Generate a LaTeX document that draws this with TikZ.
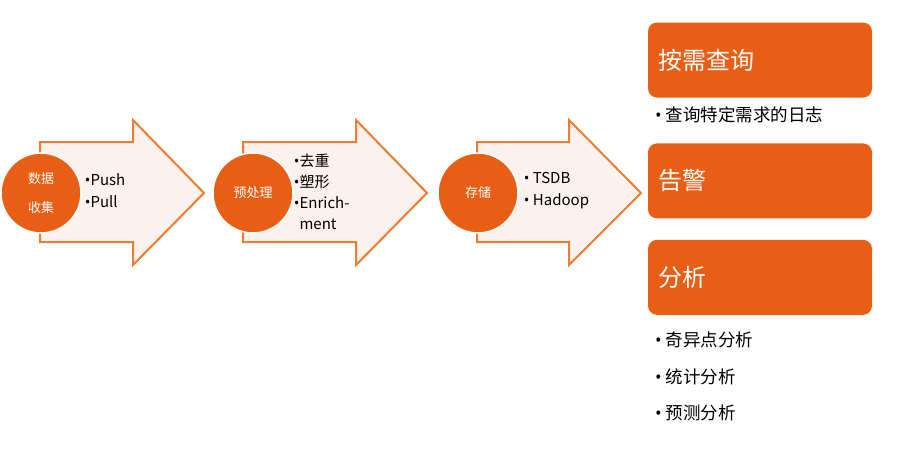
\documentclass[tikz,border=0pt]{standalone}
\usepackage{fontspec}
\setmainfont{Noto Sans CJK SC}
\newfontfamily\bulletfont{Open Sans}
\newcommand{\dotitem}{{\bulletfont •}}
\usetikzlibrary{positioning}
\definecolor{LogOrange}{RGB}{233,94,21}
\definecolor{ArrowEdge}{RGB}{237,125,49}
\definecolor{ArrowFill}{RGB}{251,241,237}

\begin{document}
\begin{tikzpicture}[x=1pt,y=-1pt,
  stage/.style={circle,fill=LogOrange,draw=white,line width=1.5pt,minimum size=80pt,
    inner sep=0pt,text=white,align=center,font=\fontsize{13}{29}\selectfont},
  items/.style={inner sep=0pt,align=left,font=\fontsize{15}{22}\selectfont},
  panel/.style={rounded corners=9pt,fill=LogOrange,minimum width=224pt,
    minimum height=75pt,inner sep=0pt},
  heading/.style={anchor=west,inner sep=0pt,text=white,font=\fontsize{24}{28}\selectfont},
  note/.style={anchor=west,inner sep=0pt,font=\fontsize{17.5}{20}\selectfont}]
  \useasboundingbox (0,0) rectangle (906,450);
  % the three stage arrows
  \foreach \a/\b/\c in {40/133/204, 243/356/427, 477/569/641}
    \draw[ArrowEdge,fill=ArrowFill,line width=2pt,line join=miter]
      (\a,142) -- (\b,142) -- (\b,120) -- (\c,193) -- (\b,265) -- (\b,242)
      -- (\a,242) -- cycle;
  \node[stage] (collect) at (41,193) {数据\\收集};
  \node[stage] (prep) at (253,193) {预处理};
  \node[stage] (store) at (478,193) {存储};
  \node[items,right=3pt of collect,yshift=2pt] (collectitems) {\dotitem Push\\\dotitem Pull};
  \node[items,right=0pt of prep,yshift=1pt,font=\fontsize{15}{21}\selectfont] (prepitems)
    {\dotitem 去重\\\dotitem 塑形\\\dotitem Enrich-\\\phantom{\dotitem}ment};
  \node[items,right=5pt of store,yshift=2pt] (storeitems) {\dotitem\ TSDB\\\dotitem\ Hadoop};
  % right column
  \node[panel] (query) at (760,60) {};
  \node[panel,below=45.5pt of query] (alert) {};
  \node[panel,below=21pt of alert] (analysis) {};
  \node[heading] at ([xshift=10pt]query.west) {按需查询};
  \node[heading] at ([xshift=10pt]alert.west) {告警};
  \node[heading] at ([xshift=10pt]analysis.west) {分析};
  \node[note] (queryitem) at (655,115) {\dotitem\ 查询特定需求的日志};
  \node[note] (outlier) at (655,340) {\dotitem\ 奇异点分析};
  \node[note] (stats) at (655,377) {\dotitem\ 统计分析};
  \node[note] (predict) at (655,413) {\dotitem\ 预测分析};
\end{tikzpicture}
\end{document}
